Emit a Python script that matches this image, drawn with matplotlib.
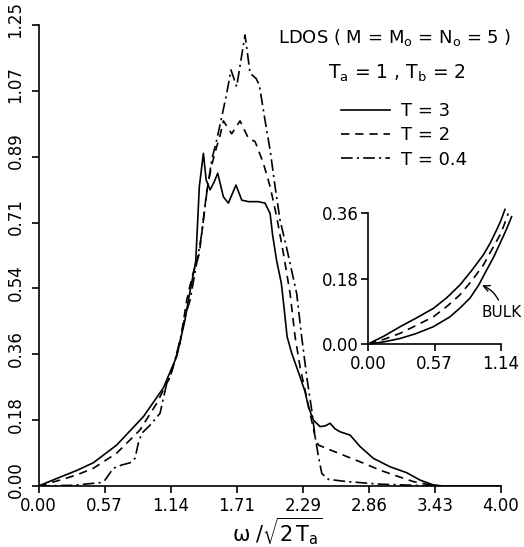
import matplotlib
matplotlib.use("Agg")
import matplotlib.pyplot as plt
from matplotlib.transforms import ScaledTranslation

plt.rcParams['font.family'] = ['DejaVu Sans']
plt.rcParams['mathtext.default'] = 'regular'

# ---------------- data ----------------
x_ticks = [0, 4/7, 8/7, 12/7, 16/7, 20/7, 24/7, 4.0]
x_tick_labels = ["0.00", "0.57", "1.14", "1.71", "2.29", "2.86", "3.43", "4.00"]
y_ticks = [0, 1.25/7, 2.5/7, 3.75/7, 5/7, 6.25/7, 7.5/7, 1.25]
y_tick_labels = ["0.00", "0.18", "0.36", "0.54", "0.71", "0.89", "1.07", "1.25"]

t3_x = [0, 0.186, 0.33, 0.474, 0.676, 0.907, 1.080, 1.195, 1.267, 1.296, 1.33, 1.36, 1.391, 1.426,
        1.450, 1.484, 1.520, 1.550, 1.599, 1.642, 1.708, 1.758, 1.815, 1.901, 1.959, 2.003, 2.025,
        2.06, 2.10, 2.125, 2.15, 2.19, 2.262, 2.305, 2.334, 2.377, 2.435, 2.48, 2.522, 2.565, 2.608,
        2.695, 2.781, 2.896, 3.041, 3.185, 3.300, 3.415, 3.50, 4.0]
t3_y = [0, 0.024, 0.042, 0.063, 0.111, 0.188, 0.266, 0.351, 0.450, 0.504, 0.56, 0.61, 0.812, 0.902,
        0.830, 0.803, 0.825, 0.848, 0.784, 0.767, 0.816, 0.775, 0.771, 0.771, 0.767, 0.739, 0.68,
        0.61, 0.55, 0.48, 0.405, 0.360, 0.296, 0.256, 0.215, 0.179, 0.161, 0.163, 0.170, 0.155, 0.147,
        0.138, 0.107, 0.075, 0.052, 0.036, 0.016, 0.003, 0.0, 0.0]

t2_x = [0, 0.186, 0.33, 0.474, 0.676, 0.878, 1.022, 1.138, 1.224, 1.282, 1.33, 1.391, 1.455, 1.498,
        1.541, 1.57, 1.599, 1.671, 1.743, 1.815, 1.873, 1.945, 2.003, 2.060, 2.118, 2.176, 2.219,
        2.262, 2.305, 2.349, 2.392, 2.421, 2.522, 2.666, 2.810, 2.954, 3.099, 3.242, 3.387, 3.43, 4.0]
t2_y = [0, 0.016, 0.030, 0.048, 0.089, 0.152, 0.224, 0.296, 0.387, 0.504, 0.57, 0.63, 0.80, 0.87,
        0.92, 0.95, 0.99, 0.955, 0.99, 0.943, 0.934, 0.875, 0.812, 0.730, 0.631, 0.522, 0.405,
        0.323, 0.260, 0.197, 0.134, 0.111, 0.098, 0.080, 0.062, 0.043, 0.027, 0.012, 0.003, 0.0, 0.0]

t04_x = [0, 0.30, 0.532, 0.575, 0.647, 0.720, 0.792, 0.835, 0.863, 0.893, 0.965, 1.051, 1.109, 1.138,
         1.181, 1.224, 1.267, 1.311, 1.383, 1.412, 1.455, 1.498, 1.541, 1.585, 1.628, 1.665, 1.714,
         1.786, 1.830, 1.882, 1.910, 1.959, 2.003, 2.046, 2.089, 2.15, 2.233, 2.276, 2.320, 2.363,
         2.392, 2.421, 2.450, 2.507, 2.666, 2.954, 3.24, 3.43, 4.0]
t04_y = [0, 0.002, 0.009, 0.016, 0.048, 0.057, 0.063, 0.075, 0.116, 0.143, 0.165, 0.197, 0.278, 0.296,
         0.342, 0.396, 0.459, 0.504, 0.631, 0.685, 0.794, 0.884, 0.938, 1.001, 1.065, 1.128, 1.083,
         1.223, 1.119, 1.105, 1.087, 0.992, 0.911, 0.812, 0.721, 0.640, 0.522, 0.405, 0.296, 0.206,
         0.134, 0.080, 0.034, 0.018, 0.012, 0.005, 0.002, 0.0, 0.0]

# inset (low-frequency region)
in_x_ticks = [0, 4/7, 8/7]
in_x_labels = ["0.00", "0.57", "1.14"]
in_y_ticks = [0, 1.25/7, 2.5/7]
in_y_labels = ["0.00", "0.18", "0.36"]
in_t3_x = [0, 0.14, 0.275, 0.41, 0.561, 0.68, 0.790, 0.89, 0.991, 1.05, 1.105, 1.14, 1.177]
in_t3_y = [0, 0.022, 0.047, 0.070, 0.097, 0.127, 0.161, 0.200, 0.243, 0.275, 0.311, 0.335, 0.367]
in_t2_x = [0, 0.14, 0.275, 0.41, 0.561, 0.68, 0.790, 0.89, 0.991, 1.06, 1.134, 1.17, 1.205]
in_t2_y = [0, 0.013, 0.029, 0.050, 0.074, 0.103, 0.134, 0.172, 0.215, 0.255, 0.297, 0.325, 0.356]
bulk_x = [0, 0.14, 0.275, 0.41, 0.561, 0.704, 0.79, 0.876, 0.95, 1.020, 1.08, 1.134, 1.19, 1.234]
bulk_y = [0, 0.006, 0.015, 0.028, 0.047, 0.074, 0.098, 0.125, 0.160, 0.202, 0.237, 0.274, 0.313, 0.347]

# ---------------- figure ----------------
W, H = 524, 547
fig = plt.figure(figsize=(W/100, H/100), dpi=100)

def fx(px):
    return px / W

def fy(py):
    return 1 - py / H

ax = fig.add_axes([fx(38.5), fy(486), fx(501) - fx(38.5), fy(25) - fy(486)])
lw = 1.2
dash = (0, (5, 3.5))
dashdot = (0, (7, 2.5, 1.3, 2.5))
ax.plot(t3_x, t3_y, color='black', lw=lw, ls='-', label='T = 3')
ax.plot(t2_x, t2_y, color='black', lw=lw, ls=dash, label='T = 2')
ax.plot(t04_x, t04_y, color='black', lw=lw, ls=dashdot, label='T = 0.4')
ax.set_xlim(0, 4.0)
ax.set_ylim(0, 1.25)
for s in ['top', 'right']:
    ax.spines[s].set_visible(False)
for s in ['left', 'bottom']:
    ax.spines[s].set_linewidth(1.2)
ax.set_xticks(x_ticks)
ax.set_xticklabels(x_tick_labels, fontsize=12)
ax.set_yticks(y_ticks)
ax.set_yticklabels(y_tick_labels, fontsize=12, rotation=90, va='center')
ax.tick_params(direction='out', length=5, width=1.2)
ax.tick_params(axis='x', pad=3)
ax.tick_params(axis='y', pad=5)
up = ScaledTranslation(0, 6/100, fig.dpi_scale_trans)
for lab in ax.get_yticklabels():
    lab.set_transform(lab.get_transform() + up)
ax.set_xlabel(r'$\omega\;/\sqrt{2\,T_a}$', fontsize=15)
ax.xaxis.set_label_coords((277 - 38.5) / (501 - 38.5), -(531 - 486) / (486 - 25), transform=ax.transAxes)
ax.xaxis.label.set_va('center')

fig.text(fx(395), fy(37), r'LDOS ( M = M$_o$ = N$_o$ = 5 )', fontsize=13, ha='center', va='center')
fig.text(fx(397), fy(73), r'T$_a$ = 1 , T$_b$ = 2', fontsize=13.5, ha='center', va='center')

leg = ax.legend(loc='upper left', bbox_to_anchor=(fx(341), fy(102)), bbox_transform=fig.transFigure,
                frameon=False, fontsize=13, handlelength=2.7, handletextpad=0.65,
                labelspacing=0.35, borderpad=0, borderaxespad=0)

# inset
ins = fig.add_axes([fx(368), fy(344), fx(501) - fx(368), fy(213) - fy(344)])
ins.plot(in_t3_x, in_t3_y, color='black', lw=lw, clip_on=False)
ins.plot(in_t2_x, in_t2_y, color='black', lw=lw, ls=dash, clip_on=False)
ins.plot(bulk_x, bulk_y, color='black', lw=lw, clip_on=False)
ins.set_xlim(0, 8/7)
ins.set_ylim(0, 2.5/7)
for s in ['top', 'right']:
    ins.spines[s].set_visible(False)
for s in ['left', 'bottom']:
    ins.spines[s].set_linewidth(1.2)
ins.set_xticks(in_x_ticks)
ins.set_xticklabels(in_x_labels, fontsize=12)
ins.set_yticks(in_y_ticks)
ins.set_yticklabels(in_y_labels, fontsize=12)
ins.tick_params(direction='out', length=5, width=1.2)
ins.tick_params(axis='x', pad=3)
ins.tick_params(axis='y', pad=2)
ins.patch.set_alpha(0)
ins.annotate('BULK', xy=(0.98, 0.16), xytext=(1.15, 0.085), fontsize=11,
             ha='center', va='center', annotation_clip=False,
             arrowprops=dict(arrowstyle='->', color='black', lw=1.0,
                             connectionstyle='arc3,rad=0.3', shrinkA=2, shrinkB=0))

fig.savefig('out.png', dpi=100)
